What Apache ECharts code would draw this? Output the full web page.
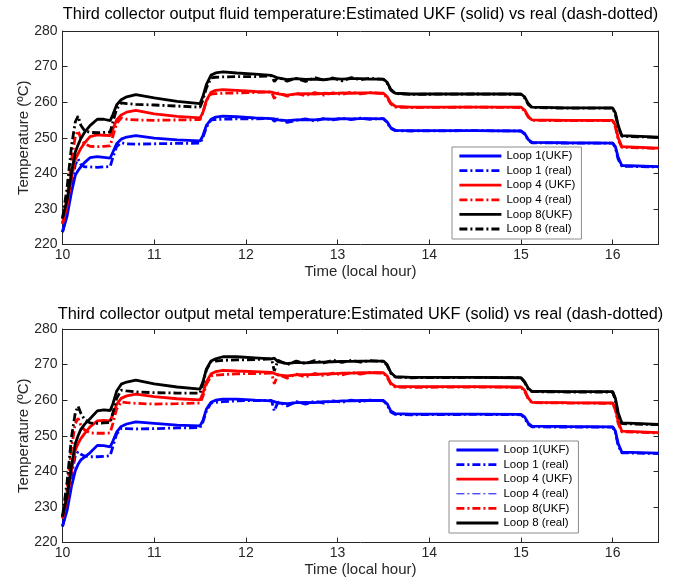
<!DOCTYPE html>
<html>
<head>
<meta charset="utf-8">
<script src="https://cdn.jsdelivr.net/npm/echarts@6/dist/echarts.min.js"></script>
<style>
html,body{margin:0;padding:0;background:#fff;}
#chart{width:673px;height:588px;}
</style>
</head>
<body>
<div id="chart"></div>
<script>
// ---- data (time in local hours, temperature in ºC) ----
const T = [10.00,10.05,10.10,10.14,10.17,10.20,10.24,10.30,10.38,10.45,10.52,10.55,10.59,10.64,10.70,10.80,11.00,11.25,11.50,11.53,
  11.57,11.62,11.67,11.75,11.90,12.10,12.28,12.31,12.35,12.45,12.55,12.65,12.75,12.85,12.95,13.05,13.15,13.25,13.35,13.50,
  13.54,13.58,13.63,13.80,14.50,15.00,15.04,15.08,15.12,15.50,16.00,16.03,16.06,16.10,16.50];

// Fluid temperature (top panel)
const fluidLoop1UKF = [223.5,228,235,239.5,240.8,241.8,243,244.4,244.7,244.5,244.3,246,248.3,249.6,250.2,250.6,249.9,249.4,249.1,250.5,
  253.5,255.2,255.8,256.1,255.9,255.6,255.4,255.3,255.0,254.8,255.0,255.1,255.0,255.3,255.2,255.4,255.3,255.4,255.4,255.3,
  254.5,252.8,252.1,252.0,252.0,251.9,251.2,249.5,248.7,248.6,248.5,247.5,244.5,242.2,241.9];
const fluidLoop1Real = [223.5,229,237,242.5,244.0,242.5,241.8,241.8,241.7,241.8,241.9,244.5,247.5,248.6,248.3,248.2,248.3,248.4,248.5,250.0,
  253.0,255.0,255.1,255.2,255.3,255.3,255.5,254.6,255.3,254.3,254.9,255.3,254.7,255.4,255.0,255.5,255.1,255.5,255.2,255.4,
  254.3,252.6,252.0,251.9,252.0,251.9,251.0,249.3,248.6,248.5,248.5,247.2,244.0,242.0,241.8];
const fluidLoop4UKF = [225.8,231,239,244.0,245.5,247.0,248.5,250.3,250.8,250.7,250.6,252.5,255.0,256.4,257.2,257.7,256.7,256.0,255.6,257.0,
  260.5,262.8,263.3,263.5,263.3,263.0,262.8,262.6,262.3,262.0,262.3,262.4,262.3,262.5,262.4,262.6,262.5,262.6,262.6,262.5,
  261.6,259.8,258.8,258.6,258.6,258.6,257.8,256.0,255.0,254.9,254.9,253.5,250.0,247.5,247.1];
const fluidLoop4Real = [225.8,233,244,250.5,252.0,249.8,248.3,247.6,247.5,247.6,247.7,250.5,254.0,255.6,255.2,255.0,254.9,255.0,255.1,257.0,
  260.5,262.3,262.4,262.5,262.6,262.7,262.9,261.0,262.6,261.7,262.5,261.8,262.7,262.0,262.6,262.2,262.8,262.3,262.7,262.4,
  261.2,259.5,258.6,258.5,258.6,258.5,257.5,255.8,254.9,254.8,254.8,253.0,249.5,247.3,247.0];
const fluidLoop8UKF = [227.3,232.5,240.5,246.0,248.0,249.8,251.5,253.4,255.2,255.2,254.8,256.5,259.2,260.7,261.5,262.1,261.2,260.2,259.6,261.5,
  265.0,267.6,268.2,268.5,268.2,267.9,267.5,267.2,266.8,266.3,266.6,266.4,266.5,266.3,266.6,266.5,266.6,266.6,266.5,266.5,
  265.6,263.6,262.5,262.3,262.3,262.3,261.5,259.6,258.6,258.4,258.4,257.0,253.5,250.6,250.2];
const fluidLoop8Real = [227.3,236,248,254.5,256.1,253.5,252.0,251.5,251.4,251.5,251.6,254.5,258.0,259.8,259.6,259.4,259.2,258.9,258.6,260.5,
  264.0,266.8,267.0,267.1,267.2,267.2,267.4,265.8,267.0,265.9,266.7,265.8,266.9,266.2,266.8,266.0,266.9,266.3,266.7,266.4,
  265.3,263.4,262.4,262.2,262.3,262.2,261.2,259.3,258.5,258.3,258.3,256.5,253.0,250.4,250.1];

// Metal temperature (bottom panel)
const metalLoop1UKF = [224.5,229,236,240.2,242.0,243.2,244.0,245.2,247.3,247.2,246.9,248.5,251.0,252.6,253.3,253.9,253.5,253.0,252.8,254.2,
  257.5,259.4,260.0,260.3,260.3,260.0,259.8,259.6,259.2,259.0,259.3,259.4,259.3,259.6,259.6,259.8,259.8,259.9,259.9,259.9,
  259.0,257.0,256.2,256.1,256.1,256.0,255.3,253.5,252.7,252.6,252.5,251.3,247.8,245.4,245.1];
const metalLoop1Real = [224.5,230,239,244.5,245.5,244.8,244.3,244.1,244.1,244.2,244.4,247.0,250.5,252.0,252.0,251.9,252.0,252.2,252.3,253.8,
  257.0,259.2,259.4,259.6,259.8,259.9,259.9,257.0,259.5,258.4,259.6,258.9,259.7,259.2,259.8,259.4,260.0,259.6,260.0,259.8,
  258.7,256.7,256.0,255.9,256.0,255.9,255.0,253.2,252.5,252.4,252.4,250.8,247.3,245.2,245.0];
const metalLoop4UKF = [226.8,232,240.5,246.0,247.8,249.2,250.6,252.5,254.2,254.3,254.2,256.0,258.8,260.5,261.2,261.7,261.0,260.4,260.1,261.8,
  265.2,267.4,268.0,268.4,268.2,268.0,267.8,267.5,267.1,266.8,267.1,267.2,267.2,267.4,267.4,267.6,267.6,267.7,267.7,267.7,
  266.8,264.8,263.9,263.8,263.8,263.7,262.8,260.6,259.4,259.3,259.2,257.8,254.0,251.3,250.9];
const metalLoop4Real = [226.8,235,247,253.5,254.9,253.0,251.6,250.8,250.7,250.7,250.8,253.5,257.5,259.5,259.3,259.1,258.9,259.0,259.2,261.0,
  264.5,266.8,267.0,267.2,267.4,267.5,267.6,264.6,267.2,266.2,267.3,266.5,267.5,266.9,267.6,267.1,267.8,267.3,267.8,267.6,
  266.5,264.5,263.7,263.6,263.7,263.6,262.5,260.3,259.3,259.2,259.1,257.2,253.5,251.1,250.8];
const metalLoop8UKF = [227.3,233,242,247.8,250.0,251.8,253.2,254.8,257.0,257.3,257.1,259.0,262.5,264.5,265.1,265.6,264.6,263.7,263.1,265.0,
  268.8,271.0,271.6,272.2,272.2,271.9,271.6,271.8,270.8,270.3,270.6,270.5,270.6,270.7,270.8,270.9,270.9,271.0,271.0,271.0,
  270.0,267.8,266.6,266.4,266.4,266.3,265.2,263.3,262.5,262.4,262.4,260.5,256.5,253.6,253.2];
const metalLoop8Real = [227.3,237,250,256.5,258.3,256.3,254.6,253.6,253.5,253.6,253.7,256.5,260.5,262.8,262.6,262.3,262.1,262.0,262.0,264.5,
  268.5,270.8,271.0,271.2,271.3,271.4,271.6,268.2,271.2,270.0,271.0,270.3,271.1,270.5,271.2,270.6,271.2,270.7,271.1,270.9,
  269.8,267.6,266.5,266.3,266.4,266.3,265.0,263.1,262.4,262.3,262.3,260.0,256.0,253.4,253.1];

const topLegendNames = ['Loop 1(UKF)','Loop 1 (real)','Loop 4 (UKF)','Loop 4 (real)','Loop 8(UKF)','Loop 8 (real)'];
const bottomLegendNames = ['Loop 1(UKF)','Loop 1 (real)','Loop 4 (UKF)','Loop 4 (real)','Loop 8(UKF)','Loop 8 (real)'];
const xTicks = {min:10, max:16.5, interval:1};
const yTicks = {min:220, max:280, interval:10};
const titles = ['Third collector output fluid temperature:Estimated UKF (solid) vs real (dash-dotted)',
                'Third collector output metal temperature:Estimated UKF (solid) vs real (dash-dotted)'];
const xName = 'Time (local hour)';
const yName = 'Temperature (ºC)';

// ---- styling ----
const FONT = '"Liberation Sans", Arial, Helvetica, sans-serif';
const AX = '#262626';
const DASHDOT = [8,3,2,3];
const BLUE = '#0000ff', RED = '#ff0000', BLACK = '#000000';

function pairs(vals){ return T.map((t,i)=>[t, vals[i]]); }

function lineSeries(name, vals, grid, color, dashed, width){
  return {
    name: name, type:'line', xAxisIndex: grid*2, yAxisIndex: grid*2,
    data: vals ? pairs(vals) : [],
    symbol:'none', showSymbol:false, smooth:false, animation:false,
    lineStyle:{color:color, width: width || 2.8, type: dashed ? DASHDOT : 'solid', cap:'butt'},
    itemStyle:{color:color},
    emphasis:{disabled:true}
  };
}

const gridTops = [31, 329];
const grids = gridTops.map(t => ({left:62.5, width:596, top:t, height:213.5, containLabel:false}));

const xAxes = [], yAxes = [];
[0,1].forEach(g=>{
  xAxes.push({
    type:'value', gridIndex:g, position:'bottom', min:xTicks.min, max:xTicks.max, interval:xTicks.interval,
    name:xName, nameLocation:'middle', nameGap:20, nameMoveOverlap:false,
    nameTextStyle:{fontFamily:FONT, fontSize:15, color:AX},
    axisLine:{show:true, onZero:false, lineStyle:{color:AX, width:1}},
    axisTick:{show:true, inside:true, length:5, lineStyle:{color:AX}},
    axisLabel:{fontFamily:FONT, fontSize:14, color:AX, margin:4,
      formatter: v => (Math.abs(v - Math.round(v)) < 1e-9 ? String(v) : '')},
    splitLine:{show:false}
  });
  xAxes.push({
    type:'value', gridIndex:g, position:'top', min:xTicks.min, max:xTicks.max, interval:xTicks.interval,
    axisLine:{show:true, onZero:false, lineStyle:{color:AX, width:1}},
    axisTick:{show:true, inside:true, length:5, lineStyle:{color:AX}},
    axisLabel:{show:false}, splitLine:{show:false}
  });
  yAxes.push({
    type:'value', gridIndex:g, position:'left', min:yTicks.min, max:yTicks.max, interval:yTicks.interval,
    name:yName, nameLocation:'middle', nameGap:31, nameRotate:90, nameMoveOverlap:false,
    nameTextStyle:{fontFamily:FONT, fontSize:15, color:AX},
    axisLine:{show:true, onZero:false, lineStyle:{color:AX, width:1}},
    axisTick:{show:true, inside:true, length:5, lineStyle:{color:AX}},
    axisLabel:{fontFamily:FONT, fontSize:14, color:AX, margin:5},
    splitLine:{show:false}
  });
  yAxes.push({
    type:'value', gridIndex:g, position:'right', min:yTicks.min, max:yTicks.max, interval:yTicks.interval,
    axisLine:{show:true, onZero:false, lineStyle:{color:AX, width:1}},
    axisTick:{show:true, inside:true, length:5, lineStyle:{color:AX}},
    axisLabel:{show:false}, splitLine:{show:false}
  });
});

const series = [
  // top panel (series drawn and used by legend)
  lineSeries(topLegendNames[0], fluidLoop1UKF, 0, BLUE, false),
  lineSeries(topLegendNames[1], fluidLoop1Real, 0, BLUE, true),
  lineSeries(topLegendNames[2], fluidLoop4UKF, 0, RED, false),
  lineSeries(topLegendNames[3], fluidLoop4Real, 0, RED, true),
  lineSeries(topLegendNames[4], fluidLoop8UKF, 0, BLACK, false),
  lineSeries(topLegendNames[5], fluidLoop8Real, 0, BLACK, true),
  // bottom panel data
  lineSeries('metal Loop 1 UKF', metalLoop1UKF, 1, BLUE, false),
  lineSeries('metal Loop 1 real', metalLoop1Real, 1, BLUE, true),
  lineSeries('metal Loop 4 UKF', metalLoop4UKF, 1, RED, false),
  lineSeries('metal Loop 4 real', metalLoop4Real, 1, RED, true),
  lineSeries('metal Loop 8 UKF', metalLoop8UKF, 1, BLACK, false),
  lineSeries('metal Loop 8 real', metalLoop8Real, 1, BLACK, true),
  // bottom legend entries (as shown in the original figure's legend)
  lineSeries('b:' + bottomLegendNames[0], null, 1, BLUE, false),
  lineSeries('b:' + bottomLegendNames[1], null, 1, BLUE, true),
  lineSeries('b:' + bottomLegendNames[2], null, 1, RED, false),
  lineSeries('b:' + bottomLegendNames[3], null, 1, BLUE, true, 1),
  lineSeries('b:' + bottomLegendNames[4], null, 1, RED, true),
  lineSeries('b:' + bottomLegendNames[5], null, 1, BLACK, false)
];

function legendBox(names, left, top, fmt){
  return {
    data: names, orient:'vertical', left:left, top:top,
    itemWidth:42, itemHeight:14, itemGap:0.6,
    padding:[2,6,3,6],
    backgroundColor:'#ffffff', borderColor:'#8c8c8c', borderWidth:1, borderRadius:0,
    textStyle:{fontFamily:FONT, fontSize:11.5, color:'#000', lineHeight:14},
    itemStyle:{opacity:0},
    lineStyle:{width:'inherit'},
    selectedMode:false,
    formatter: fmt
  };
}

const option = {
  animation:false,
  backgroundColor:'#ffffff',
  title: titles.map((t,i)=>({
    text:t, left:360.5, top: i===0 ? 15 : 315, textAlign:'center', textVerticalAlign:'middle', padding:0,
    textStyle:{fontFamily:FONT, fontSize:16.3, fontWeight:'normal', color:'#000'}
  })),
  grid: grids,
  xAxis: xAxes,
  yAxis: yAxes,
  legend: [
    legendBox(topLegendNames, 452, 147),
    legendBox(bottomLegendNames.map(n=>'b:'+n), 449, 441, n=>n.replace(/^b:/,''))
  ],
  series: series
};

const chart = echarts.init(document.getElementById('chart'), null, {renderer:'canvas'});
chart.setOption(option);
</script>
</body>
</html>
